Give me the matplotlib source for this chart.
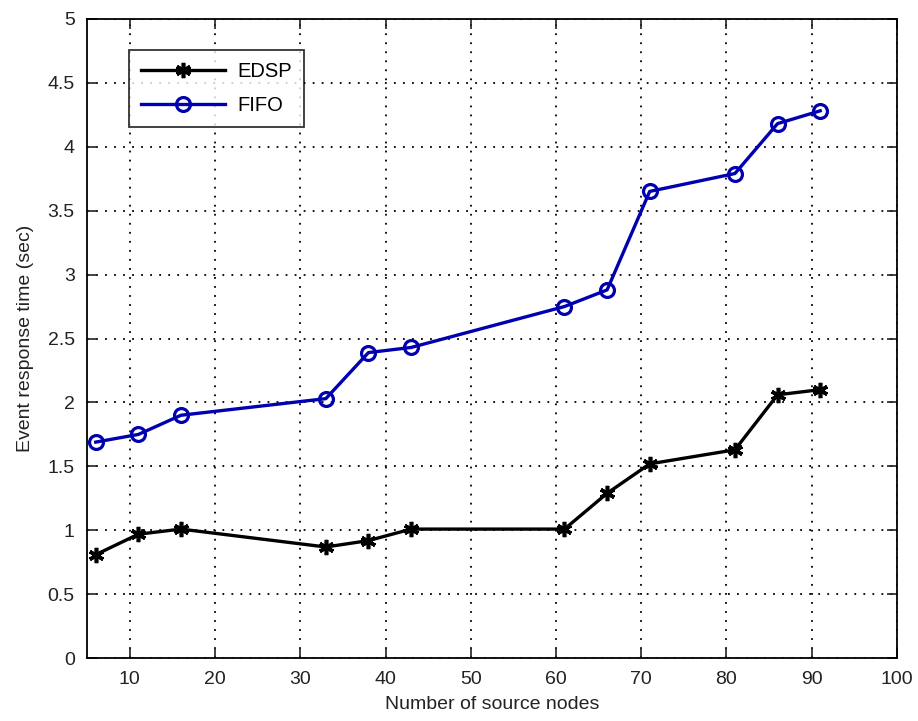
import matplotlib
matplotlib.use("Agg")
import matplotlib.pyplot as plt

plt.rcParams['font.family'] = ['Liberation Sans', 'DejaVu Sans']

nodes = [6, 11, 16, 33, 38, 43, 61, 66, 71, 81, 86, 91]
edsp = [0.81, 0.97, 1.01, 0.87, 0.92, 1.01, 1.01, 1.29, 1.52, 1.63, 2.06, 2.10]
fifo = [1.69, 1.75, 1.90, 2.03, 2.39, 2.43, 2.75, 2.88, 3.65, 3.79, 4.18, 4.28]
xticks = [10, 20, 30, 40, 50, 60, 70, 80, 90, 100]
yticks = [0, 0.5, 1, 1.5, 2, 2.5, 3, 3.5, 4, 4.5, 5]
ytick_labels = ['0', '0.5', '1', '1.5', '2', '2.5', '3', '3.5', '4', '4.5', '5']

fig = plt.figure(figsize=(9.18, 7.21), dpi=100)
ax = fig.add_axes([0.095, 0.087, 0.882, 0.887])

ax.plot(nodes, edsp, color='black', linewidth=2.4, marker=(6, 2, 0),
        markersize=11, markeredgewidth=2.6, label='EDSP')
ax.plot(nodes, fifo, color='#0000b0', linewidth=2.4, marker='o',
        markersize=10, markerfacecolor='none', markeredgewidth=2.3, label='FIFO')

ax.set_xlim(5, 100)
ax.set_ylim(0, 5)
ax.set_xticks(xticks)
ax.set_yticks(yticks)
ax.set_yticklabels(ytick_labels)
ax.tick_params(direction='in', top=True, right=True, length=7, width=1.2,
               labelsize=14, colors='#222222', pad=9)
ax.grid(True, linestyle=(0, (1, 4)), color='black', linewidth=1.3)
for s in ax.spines.values():
    s.set_linewidth(1.3)

ax.set_xlabel('Number of source nodes', fontsize=14, color='#222222', labelpad=6)
ax.set_ylabel('Event response time (sec)', fontsize=14, color='#222222', labelpad=10)

leg = ax.legend(loc='upper left', bbox_to_anchor=(0.051, 0.951), borderaxespad=0,
                fontsize=14.5, frameon=True, fancybox=False, edgecolor='black',
                handlelength=4.2, borderpad=0.6, labelspacing=0.75, handletextpad=0.6)
leg.get_frame().set_linewidth(1.3)

fig.savefig('out.png', dpi=100)
